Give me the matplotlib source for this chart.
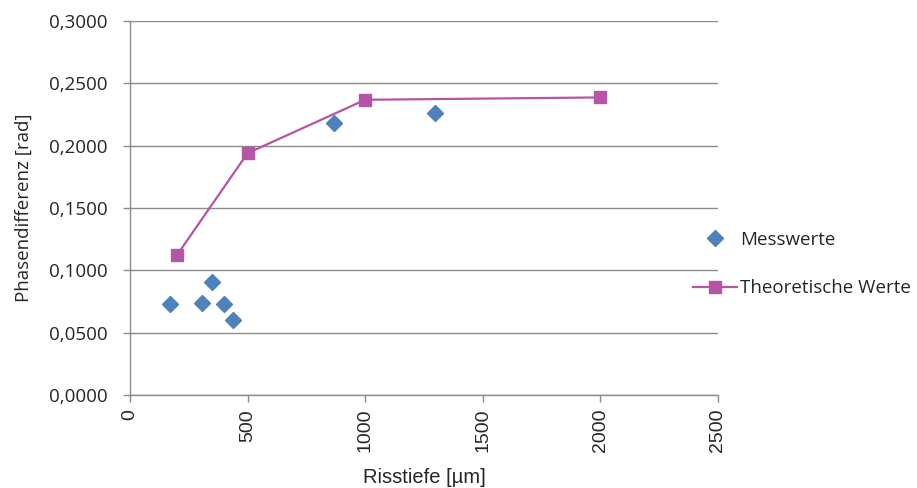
import matplotlib
matplotlib.use("Agg")
import matplotlib.pyplot as plt
from matplotlib.ticker import FuncFormatter

# Measured phase differences
mess_x = [170, 306, 349, 400, 438, 867, 1297]
mess_y = [0.0730, 0.0735, 0.0908, 0.0728, 0.0605, 0.2185, 0.2260]

# Theoretical values
theo_x = [200, 500, 1000, 2000]
theo_y = [0.1123, 0.1940, 0.2368, 0.2387]

x_ticks = [0, 500, 1000, 1500, 2000, 2500]
y_ticks = [0.0, 0.05, 0.10, 0.15, 0.20, 0.25, 0.30]

blue = "#4F81BD"
purple = "#B456A5"
grid_gray = "#8C8C8C"
text_col = "#262626"

fig = plt.figure(figsize=(9.17, 4.88), dpi=100)
ax = fig.add_axes([130 / 917, 1 - 395 / 488, (718 - 130) / 917, (395 - 21) / 488])

ax.plot(theo_x, theo_y, color=purple, lw=1.6, marker="s", ms=9,
        markerfacecolor=purple, markeredgecolor=purple, label="Theoretische Werte", zorder=3)
ax.plot(mess_x, mess_y, linestyle="none", marker="D", ms=8.5,
        markerfacecolor=blue, markeredgecolor=blue, label="Messwerte", zorder=4)

ax.set_xlim(0, 2500)
ax.set_ylim(0, 0.30)
ax.set_xticks(x_ticks)
ax.set_yticks(y_ticks)
ax.yaxis.set_major_formatter(FuncFormatter(lambda v, p: f"{v:.4f}".replace(".", ",")))

ax.grid(axis="y", color=grid_gray, lw=1.0)
ax.set_axisbelow(True)
for s in ("top", "right"):
    ax.spines[s].set_visible(False)
for s in ("left", "bottom"):
    ax.spines[s].set_color(grid_gray)
    ax.spines[s].set_linewidth(1.0)

ax.tick_params(axis="both", color=grid_gray, length=5, width=1.0, direction="out")
ax.tick_params(axis="y", labelsize=13.5, labelcolor=text_col, pad=11)
ax.tick_params(axis="x", labelsize=14, labelcolor=text_col, labelrotation=90, pad=5)
for t in ax.get_yticklabels():
    t.set_family("Open Sans")
for t in ax.get_xticklabels():
    t.set_family("Liberation Sans")

ax.set_ylabel("Phasendifferenz [rad]", fontsize=13.5, color=text_col, family="Open Sans", labelpad=12)
ax.set_xlabel("Risstiefe [µm]", fontsize=14.5, color=text_col, family="Liberation Sans", labelpad=11)

handles, labels = ax.get_legend_handles_labels()
leg = fig.legend(handles[::-1], labels[::-1], loc="center left",
                 bbox_to_anchor=(0.7375, 0.459), frameon=False,
                 prop={"family": "Open Sans", "size": 13.5}, labelspacing=1.65,
                 handlelength=2.35, handletextpad=0.15, labelcolor=text_col)

fig.savefig("out.png", dpi=100)
